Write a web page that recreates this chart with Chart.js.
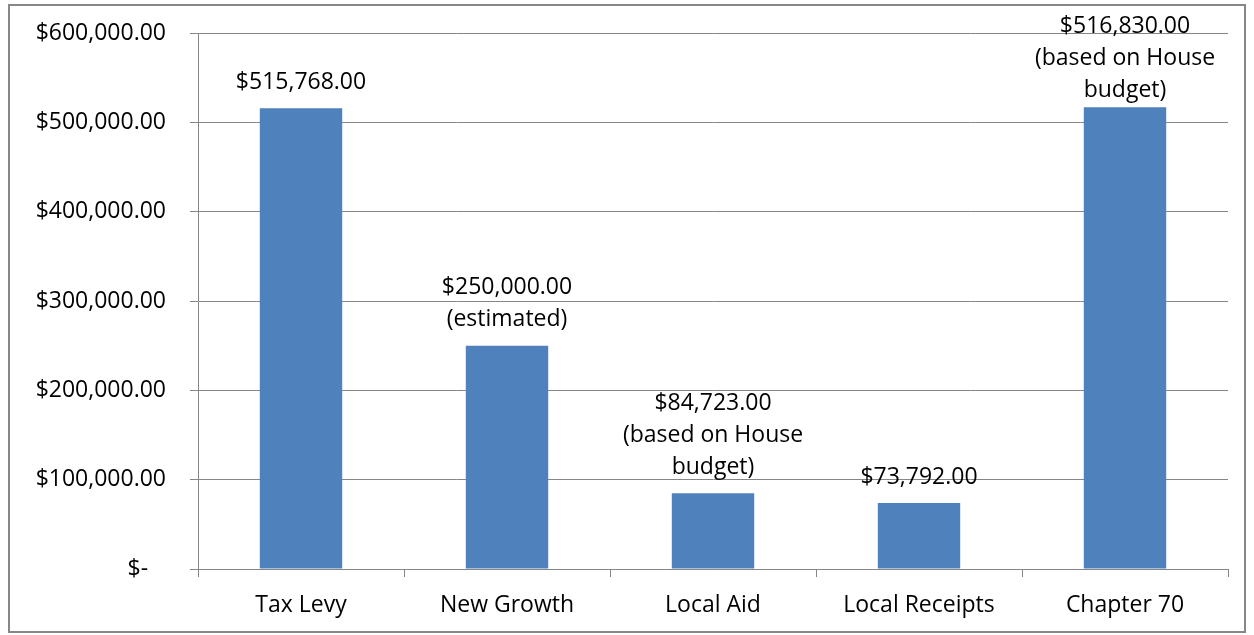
<!DOCTYPE html>
<html>
<head>
<meta charset="utf-8">
<script src="https://cdn.jsdelivr.net/npm/chart.js@4.4.1/dist/chart.umd.min.js"></script>
<style>
    html, body { margin: 0; padding: 0; background: #fff; }
    #frame {
        position: absolute; left: 8px; top: 4px;
        width: 1234px; height: 625px;
        border: 2px solid #878787;
    }
    #frame canvas { display: block; }
</style>
</head>
<body>
<div id="frame"><canvas id="budgetChart" width="1234" height="625"></canvas></div>
<script>
// chart data
const categories = ['Tax Levy', 'New Growth', 'Local Aid', 'Local Receipts', 'Chapter 70'];
const amounts = [515768, 250000, 84723, 73792, 516830];
const notes = ['', '(estimated)', '(based on House\nbudget)', '', '(based on House\nbudget)'];
const yTicks = [0, 100000, 200000, 300000, 400000, 500000, 600000];

const FONT = "'Open Sans', sans-serif";
const FSIZE = 23;
const money = (v) => v === 0 ? '$-   ' : '$' + v.toLocaleString('en-US', { minimumFractionDigits: 2, maximumFractionDigits: 2 });

// labels above bars, no datalabels plugin here so draw them by hand
const barLabels = {
    id: 'barLabels',
    afterDatasetsDraw(chart) {
        const ctx = chart.ctx;
        const meta = chart.getDatasetMeta(0);
        ctx.save();
        ctx.font = FSIZE + 'px ' + FONT;
        ctx.fillStyle = '#000';
        ctx.textAlign = 'center';
        ctx.textBaseline = 'middle';
        meta.data.forEach((bar, i) => {
            const lines = [money(amounts[i])];
            if (notes[i]) lines.push(...notes[i].split('\n'));
            const lh = 32;
            let y = bar.y - 26 - (lines.length - 1) * lh;
            // keep tall labels inside the frame, like excel does
            y = Math.max(y, 20);
            lines.forEach(l => { ctx.fillText(l, bar.x, y); y += lh; });
        });
        ctx.restore();
    }
};

new Chart(document.getElementById('budgetChart'), {
    type: 'bar',
    data: {
        labels: categories,
        datasets: [{
            data: amounts,
            backgroundColor: '#4F81BD',
            borderWidth: 0,
            categoryPercentage: 1,
            barPercentage: 0.4
        }]
    },
    options: {
        responsive: false,
        animation: false,
        layout: { padding: { top: 27, right: 16, bottom: 0, left: 0 } },
        plugins: {
            legend: { display: false },
            tooltip: { enabled: false }
        },
        scales: {
            x: {
                grid: { drawOnChartArea: false, drawTicks: true, tickLength: 8, color: '#868686', offset: true },
                border: { color: '#868686', width: 1 },
                ticks: { color: '#000', font: { family: FONT, size: FSIZE }, padding: 15 },
                afterFit: (s) => { s.height = 62; }
            },
            y: {
                min: 0,
                max: 600000,
                afterBuildTicks: (s) => { s.ticks = yTicks.map(v => ({ value: v })); },
                grid: { color: '#868686', lineWidth: 1, tickLength: 8 },
                border: { color: '#868686', width: 1 },
                ticks: {
                    color: '#000',
                    font: { family: FONT, size: FSIZE },
                    padding: 24,
                    callback: (v) => money(v)
                },
                afterFit: (s) => {
                    s.width = 188;
                    // tick padding also pads top/bottom in v4, undo that
                    s.paddingTop = 14;
                    s.paddingBottom = 14;
                }
            }
        }
    },
    plugins: [barLabels]
});
</script>
</body>
</html>
